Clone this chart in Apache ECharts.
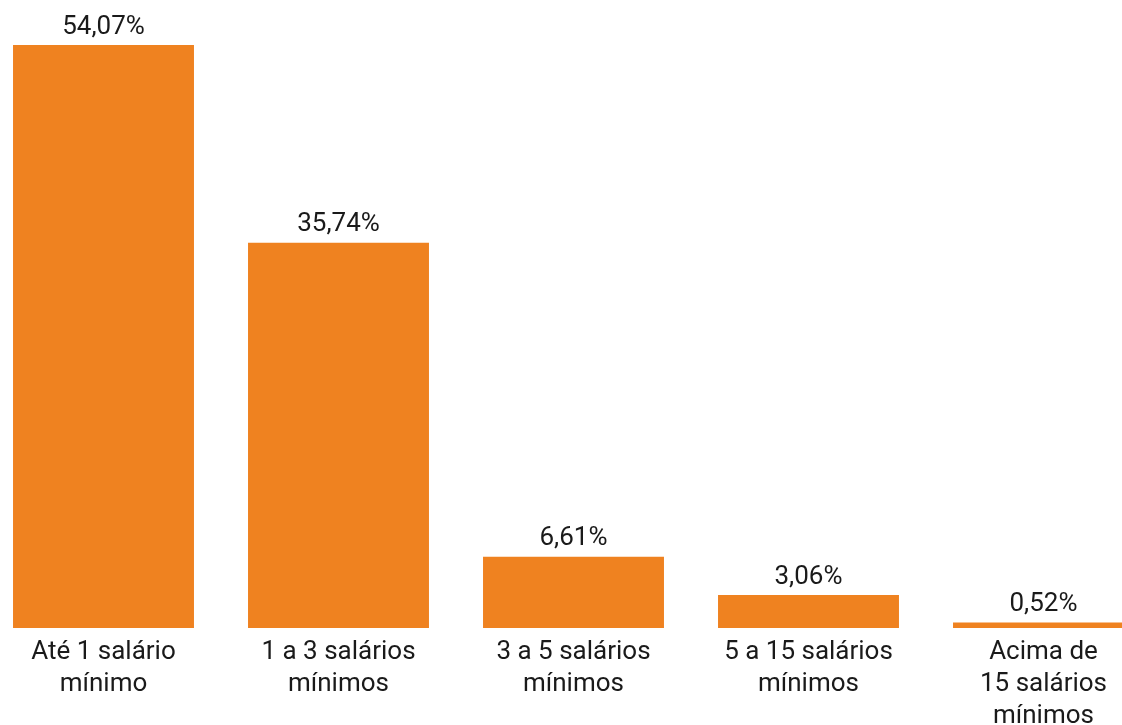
<!DOCTYPE html>
<html>
<head>
<meta charset="utf-8">
<script src="https://cdn.jsdelivr.net/npm/echarts@6/dist/echarts.min.js"></script>
<style>
html,body{margin:0;padding:0;background:#fff;overflow:hidden;width:1122px;height:725px;}
#c{position:absolute;left:-14px;top:0;width:1175px;height:725px;}
</style>
</head>
<body>
<div id="c"></div>
<script>
const categories = ["Até 1 salário\nmínimo", "1 a 3 salários\nmínimos", "3 a 5 salários\nmínimos", "5 a 15 salários\nmínimos", "Acima de\n15 salários\nmínimos"];
const values = [54.07, 35.74, 6.61, 3.06, 0.52];
const valueLabels = ["54,07%", "35,74%", "6,61%", "3,06%", "0,52%"];

const chart = echarts.init(document.getElementById('c'), null, {renderer: 'canvas'});
chart.setOption({
  animation: false,
  backgroundColor: '#ffffff',
  grid: {left: 0, right: 0, top: 45, bottom: 97, containLabel: false, outerBoundsMode: 'none'},
  xAxis: {
    type: 'category',
    data: categories,
    axisLine: {show: false},
    axisTick: {show: false},
    axisLabel: {
      interval: 0,
      margin: 8,
      color: '#1a1a1a',
      fontFamily: 'Roboto',
      fontSize: 26,
      lineHeight: 32
    }
  },
  yAxis: {
    type: 'value',
    min: 0,
    max: 54.07,
    show: false,
    splitLine: {show: false}
  },
  series: [{
    type: 'bar',
    data: values,
    barCategoryGap: '23%',
    itemStyle: {color: '#EF8220'},
    label: {
      show: true,
      position: 'top',
      distance: 5,
      color: '#1a1a1a',
      fontFamily: 'Roboto',
      fontSize: 26,
      formatter: p => valueLabels[p.dataIndex]
    }
  }]
});
</script>
</body>
</html>
